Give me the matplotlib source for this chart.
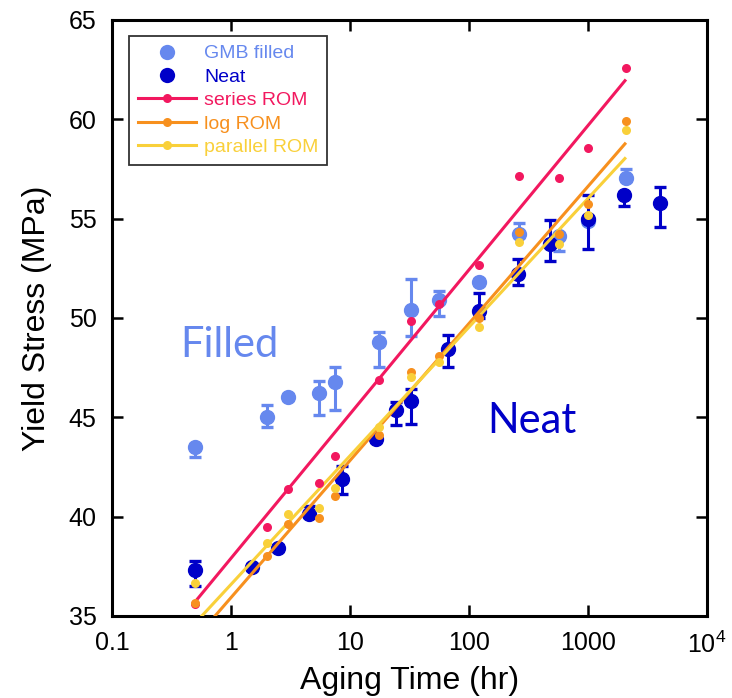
import matplotlib
matplotlib.use("Agg")
import matplotlib.pyplot as plt
from matplotlib.lines import Line2D
import numpy as np

plt.rcParams['font.family'] = ['Liberation Sans', 'DejaVu Sans']
plt.rcParams['mathtext.fontset'] = 'custom'
plt.rcParams['mathtext.rm'] = 'Liberation Sans'
plt.rcParams['mathtext.it'] = 'Liberation Sans'
plt.rcParams['mathtext.default'] = 'regular'

# GMB filled samples
filled_time = [0.5, 2, 3, 5.5, 7.5, 17.5, 32.5, 56, 122, 264, 574, 1000, 2080]
filled_stress = [43.5, 45.0, 46.0, 46.2, 46.8, 48.8, 50.4, 50.9, 51.8, 54.2, 54.1, 54.9, 57.05]
filled_err_lo = [0.5, 0.5, 0.15, 1.09, 1.43, 1.29, 1.31, 0.8, 0.15, 0.15, 0.75, 0.15, 0.15]
filled_err_hi = [0.15, 0.62, 0.15, 0.62, 0.72, 0.47, 1.58, 0.45, 0.15, 0.6, 0.15, 0.15, 0.45]

# Neat samples
neat_time = [0.5, 1.5, 2.5, 4.5, 8.5, 16.5, 24.5, 32.5, 67, 122, 260, 480, 1000, 2000, 4000]
neat_stress = [37.3, 37.45, 38.4, 40.13, 41.9, 43.9, 45.37, 45.84, 48.44, 50.35, 52.2, 53.72, 55.0, 56.2, 55.77]
neat_err_lo = [0.8, 0.15, 0.15, 0.15, 0.75, 0.15, 0.75, 1.19, 0.89, 0.37, 0.54, 0.84, 1.51, 0.59, 1.18]
neat_err_hi = [0.45, 0.15, 0.15, 0.4, 0.67, 0.15, 0.42, 0.57, 0.7, 0.89, 0.75, 1.21, 1.17, 0.15, 0.84]

# Rule-of-mixtures predictions at the filled aging times
rom_time = filled_time
series_rom = [35.6, 39.5, 41.4, 41.7, 43.05, 46.9, 49.85, 50.7, 52.66, 57.14, 57.03, 58.54, 62.56]
log_rom = [35.67, 38.02, 39.63, 39.95, 41.06, 44.1, 47.29, 48.08, 49.98, 54.31, 54.22, 55.73, 59.91]
parallel_rom = [36.68, 38.66, 40.13, 40.42, 41.43, 44.53, 47.04, 47.8, 49.56, 53.81, 53.71, 55.18, 59.46]

# Log-linear trend lines (end points)
fit_time = [0.5, 2080]
series_fit = [35.72, 62.0]
log_fit = [33.85, 58.82]
parallel_fit = [34.64, 58.08]

x_ticks = [0.1, 1, 10, 100, 1000, 10000]
x_tick_labels = ['0.1', '1', '10', '100', '1000', '$10^4$']
y_ticks = [35, 40, 45, 50, 55, 60, 65]

c_filled = '#6688ee'
c_neat = '#0000c8'
c_series = '#f2185f'
c_log = '#f7901e'
c_parallel = '#f9d03a'

fig = plt.figure(figsize=(7.32, 6.98), dpi=100)
ax = fig.add_axes([0.153, 0.1175, 0.813, 0.854])

ms_big = 10
ms_small = 6.5
eb_kw = dict(fmt='o', markersize=ms_big, elinewidth=2.2, capsize=4.5, capthick=2.4)

ax.errorbar(filled_time, filled_stress, yerr=[filled_err_lo, filled_err_hi],
            color=c_filled, ecolor=c_filled, zorder=3, **eb_kw)
ax.errorbar(neat_time, neat_stress, yerr=[neat_err_lo, neat_err_hi],
            color=c_neat, ecolor=c_neat, zorder=4, **eb_kw)

for vals, fit, col in [(series_rom, series_fit, c_series),
                       (log_rom, log_fit, c_log),
                       (parallel_rom, parallel_fit, c_parallel)]:
    ax.plot(fit_time, fit, color=col, lw=2.2, zorder=5, solid_capstyle='butt')
    ax.plot(rom_time, vals, 'o', color=col, markersize=ms_small,
            markeredgewidth=0, zorder=6)

ax.set_xscale('log')
ax.set_xlim(0.1, 10000)
ax.set_ylim(35, 65)
ax.set_xticks(x_ticks)
ax.set_xticklabels(x_tick_labels)
ax.xaxis.set_minor_locator(matplotlib.ticker.NullLocator())
ax.set_yticks(y_ticks)

ax.tick_params(axis='both', which='major', direction='in', length=8, width=1.8,
               labelsize=18, top=True, right=True, pad=11)
for s in ax.spines.values():
    s.set_linewidth(2.2)

ax.set_xlabel('Aging Time (hr)', fontsize=23, labelpad=6)
ax.set_ylabel('Yield Stress (MPa)', fontsize=23, labelpad=12)

ax.text(0.372, 48.03, 'Filled', color=c_filled, fontsize=30, family=['Lato', 'DejaVu Sans'],
        ha='left', va='baseline')
ax.text(141, 44.21, 'Neat', color=c_neat, fontsize=30, family=['Lato', 'DejaVu Sans'],
        ha='left', va='baseline')

handles = [
    Line2D([], [], ls='none', marker='o', color=c_filled, markersize=ms_big + 1, markeredgewidth=0),
    Line2D([], [], ls='none', marker='o', color=c_neat, markersize=ms_big + 1, markeredgewidth=0),
    Line2D([], [], color=c_series, lw=2.2, marker='o', markersize=ms_small, markeredgewidth=0),
    Line2D([], [], color=c_log, lw=2.2, marker='o', markersize=ms_small, markeredgewidth=0),
    Line2D([], [], color=c_parallel, lw=2.2, marker='o', markersize=ms_small, markeredgewidth=0),
]
labels = ['GMB filled', 'Neat', 'series ROM', 'log ROM', 'parallel ROM']
leg = ax.legend(handles, labels, loc='upper left', bbox_to_anchor=(0.0286, 0.973),
                borderaxespad=0, fontsize=14, frameon=True, fancybox=False,
                edgecolor='black', handlelength=3.0, handletextpad=0.4,
                labelspacing=0.3, borderpad=0.45, numpoints=1)
leg.get_frame().set_linewidth(1.3)
for txt, h in zip(leg.get_texts(), handles):
    txt.set_color(h.get_color())

fig.savefig('out.png', dpi=100)
